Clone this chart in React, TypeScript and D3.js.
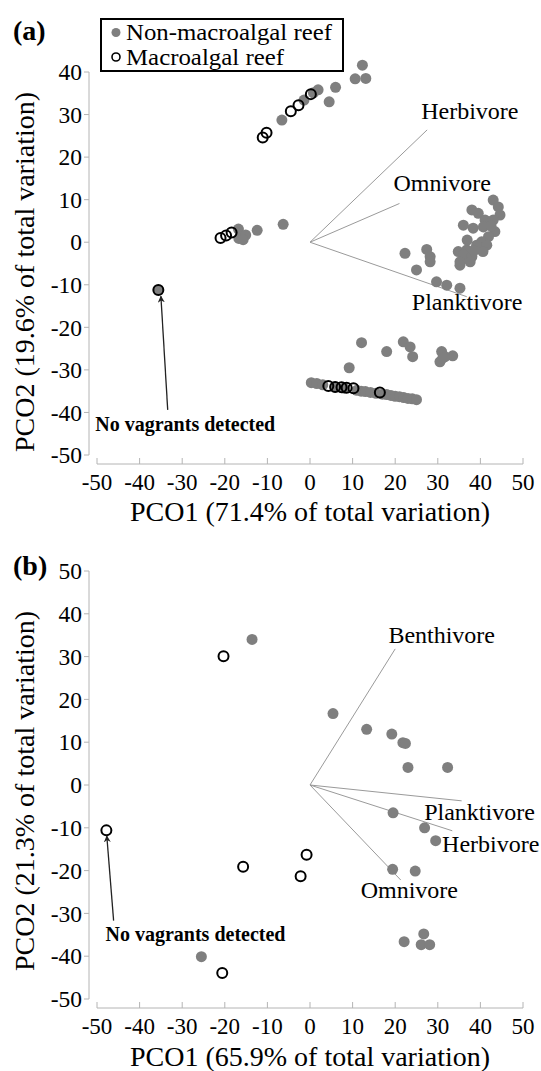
import React from 'react';
import * as d3 from 'd3';

// ---------- data ----------
const xTicks = [-50, -40, -30, -20, -10, 0, 10, 20, 30, 40, 50];
const yTicksA = [-50, -40, -30, -20, -10, 0, 10, 20, 30, 40];
const yTicksB = [-50, -40, -30, -20, -10, 0, 10, 20, 30, 40, 50];

const legendLabels = ['Non-macroalgal reef', 'Macroalgal reef'];

// Panel (a) – non-macroalgal reef (filled grey)
const aNonMacro: [number, number][] = [
  [12.3, 41.6], [10.6, 38.4], [13.1, 38.5], [6.0, 36.4], [4.5, 33.0], [1.9, 35.8], [0.8, 35.1],
  [-1.4, 33.4], [-6.6, 28.7],
  [-16.8, 3.1], [-16.7, 0.9], [-15.1, 1.7], [-15.7, 0.6], [-12.4, 2.8], [-6.3, 4.2],
  [43.0, 9.9], [44.2, 8.3], [44.6, 6.4], [38.0, 7.6], [39.5, 6.8], [41.1, 5.2], [43.0, 5.2],
  [36.0, 4.0], [38.3, 3.3], [40.7, 3.6], [43.4, 2.5], [41.9, 1.3], [40.3, 0.1], [39.1, -0.7],
  [41.5, -0.7], [40.6, -2.2], [34.8, -2.2], [36.8, -1.8], [36.0, -3.0], [38.0, -3.4], [35.2, -4.6],
  [37.6, -4.6], [35.2, -5.4], [36.9, 0.5], [38.5, -2.0], [42.5, 3.8],
  [22.3, -2.6], [27.4, -1.7], [28.2, -3.4], [28.2, -4.6], [25.0, -6.5], [29.7, -9.3], [32.1, -10.1], [35.2, -10.8],
  [12.1, -23.6], [18.0, -25.7], [21.9, -23.4], [23.5, -24.6], [24.1, -26.9], [30.9, -25.7], [30.5, -28.1],
  [33.5, -26.7], [31.7, -26.9], [31.2, -27.2], [9.2, -29.5],
  [0.3, -33.0], [1.6, -33.2], [3.0, -33.5], [6.0, -34.0], [8.0, -34.3], [11.0, -34.8], [12.0, -35.0],
  [13.0, -35.1], [14.2, -35.3], [15.5, -35.5], [17.0, -35.7], [18.0, -35.8], [19.0, -36.0], [20.0, -36.2],
  [21.0, -36.3], [22.0, -36.5], [23.0, -36.7], [24.0, -36.8], [25.0, -37.0],
];
// Panel (a) – macroalgal reef (open)
const aMacro: [number, number][] = [
  [0.2, 34.8], [-2.7, 32.2], [-4.5, 30.8], [-10.2, 25.7], [-11.1, 24.6],
  [-21.0, 1.0], [-19.7, 1.6], [-18.4, 2.3],
  [4.3, -33.8], [5.9, -34.0], [7.4, -34.1], [8.6, -34.2], [10.2, -34.3], [16.4, -35.3],
];
const aVagrant: [number, number] = [-35.6, -11.2];

const aVectorNames = ['Herbivore', 'Omnivore', 'Planktivore'];
const aVectorX = [27.5, 21.0, 36.8];
const aVectorY = [26.4, 9.1, -12.8];

// Panel (b)
const bNonMacro: [number, number][] = [
  [-13.6, 34.0], [5.4, 16.7], [13.3, 13.0], [19.2, 11.9], [21.8, 9.9], [22.4, 9.7], [23.0, 4.1], [32.3, 4.1],
  [19.5, -6.5], [26.9, -10.0], [29.5, -13.0], [19.4, -19.7], [24.7, -20.1],
  [26.7, -34.8], [22.1, -36.6], [26.1, -37.3], [28.1, -37.3], [-25.5, -40.1],
];
const bMacro: [number, number][] = [
  [-20.3, 30.1], [-15.7, -19.1], [-0.8, -16.3], [-2.2, -21.3], [-20.6, -43.9],
];
const bVagrant: [number, number] = [-47.8, -10.6];

const bVectorNames = ['Benthivore', 'Planktivore', 'Herbivore', 'Omnivore'];
const bVectorX = [20.0, 35.6, 33.4, 21.3];
const bVectorY = [31.8, -3.7, -10.7, -22.2];

// ---------- styles ----------
const FONT = '"Liberation Serif", "Times New Roman", serif';
const GREY = '#7f7f7f';
const AXIS = '#b4b4b4';

type PanelProps = {
  tag: string;
  xTitle: string;
  yTitle: string;
  yTicks: number[];
  yRange: [number, number];
  axisY: number;
  tickLabelY: number;
  xTitleY: number;
  yTitleY: number;
  tagY: number;
  nonMacro: [number, number][];
  macro: [number, number][];
  vagrant: [number, number];
  vagrantFilled: boolean;
  vNames: string[];
  vX: number[];
  vY: number[];
  vLabelPos: [number, number][];
  noteText: [number, number];
  arrowFrom: [number, number];
  arrowTo: [number, number];
  dotR: number;
  ringR: number;
  arrowId: string;
};

function Panel(p: PanelProps) {
  const yDom = d3.extent(p.yTicks) as [number, number];
  const x = d3.scaleLinear().domain([-50, 50]).range([97, 523]);
  const y = d3.scaleLinear().domain(yDom).range(p.yRange);
  const axisX = 89;
  return (
    <g>
      {/* panel tag */}
      <text x={13} y={p.tagY} fontFamily={FONT} fontWeight="bold" fontSize={28}>{p.tag}</text>

      {/* y axis */}
      <line x1={axisX} x2={axisX} y1={y(yDom[1])} y2={y(yDom[0])} stroke={AXIS} strokeWidth={1} />
      {p.yTicks.map((t) => (
        <g key={'y' + t}>
          <line x1={axisX - 5} x2={axisX} y1={y(t)} y2={y(t)} stroke={AXIS} />
          <text x={82} y={y(t)} dy="0.35em" textAnchor="end" fontFamily={FONT} fontSize={23.5}>{t}</text>
        </g>
      ))}
      {/* x axis */}
      <line x1={x(-50)} x2={x(50)} y1={p.axisY} y2={p.axisY} stroke={AXIS} />
      {xTicks.map((t) => (
        <g key={'x' + t}>
          <line x1={x(t)} x2={x(t)} y1={p.axisY - 6} y2={p.axisY} stroke={AXIS} />
          <text x={x(t)} y={p.tickLabelY} textAnchor="middle" fontFamily={FONT} fontSize={23}>{t}</text>
        </g>
      ))}
      <text x={310} y={p.xTitleY} textAnchor="middle" fontFamily={FONT} fontSize={28}>{p.xTitle}</text>
      <text transform={`translate(34,${p.yTitleY}) rotate(-90)`} textAnchor="middle" fontFamily={FONT} fontSize={28}>{p.yTitle}</text>

      {/* vectors */}
      {p.vNames.map((n, i) => (
        <g key={n}>
          <line x1={x(0)} y1={y(0)} x2={x(p.vX[i])} y2={y(p.vY[i])} stroke="#9a9a9a" strokeWidth={1} />
          <text x={x(p.vLabelPos[i][0])} y={y(p.vLabelPos[i][1])} fontFamily={FONT} fontSize={24}>{n}</text>
        </g>
      ))}

      {/* points */}
      {p.nonMacro.map((d, i) => (
        <circle key={'n' + i} cx={x(d[0])} cy={y(d[1])} r={p.dotR} fill={GREY} />
      ))}
      {p.macro.map((d, i) => (
        <circle key={'m' + i} cx={x(d[0])} cy={y(d[1])} r={p.ringR} fill="none" stroke="#000" strokeWidth={2} />
      ))}
      <circle cx={x(p.vagrant[0])} cy={y(p.vagrant[1])} r={p.ringR} fill={p.vagrantFilled ? GREY : 'none'} stroke="#000" strokeWidth={2} />

      {/* annotation */}
      <line x1={x(p.arrowFrom[0])} y1={y(p.arrowFrom[1])} x2={x(p.arrowTo[0])} y2={y(p.arrowTo[1])}
        stroke="#222" strokeWidth={1.3} markerEnd={`url(#${p.arrowId})`} />
      <text x={x(p.noteText[0])} y={y(p.noteText[1])} fontFamily={FONT} fontWeight="bold" fontSize={20}>No vagrants detected</text>
    </g>
  );
}

export default function App() {
  return (
    <svg width={541} height={1071} style={{ position: 'absolute', left: 0, top: 0, background: '#fff' }}>
      <defs>
        <marker id="arrA" viewBox="0 0 10 10" refX="9" refY="5" markerWidth="7" markerHeight="7" orient="auto-start-reverse" markerUnits="userSpaceOnUse">
          <path d="M0,0 L10,5 L0,10 L3,5 Z" fill="#222" />
        </marker>
        <marker id="arrB" viewBox="0 0 10 10" refX="9" refY="5" markerWidth="7" markerHeight="7" orient="auto-start-reverse" markerUnits="userSpaceOnUse">
          <path d="M0,0 L10,5 L0,10 L3,5 Z" fill="#222" />
        </marker>
      </defs>
      <rect width={541} height={1071} fill="#fff" />

      <Panel
        tag="(a)"
        xTitle="PCO1 (71.4% of total variation)"
        yTitle="PCO2 (19.6% of total variation)"
        yTicks={yTicksA}
        yRange={[455, 72]}
        axisY={464}
        tickLabelY={490}
        xTitleY={521}
        yTitleY={272}
        tagY={40}
        nonMacro={aNonMacro}
        macro={aMacro}
        vagrant={aVagrant}
        vagrantFilled={true}
        vNames={aVectorNames}
        vX={aVectorX}
        vY={aVectorY}
        vLabelPos={[[26.1, 29.0], [19.6, 12.0], [23.9, -15.9]]}
        noteText={[-50.4, -44.4]}
        arrowFrom={[-33.4, -39.4]}
        arrowTo={[-35.0, -12.7]}
        dotR={5.5}
        ringR={5}
        arrowId="arrA"
      />

      <Panel
        tag="(b)"
        xTitle="PCO1 (65.9% of total variation)"
        yTitle="PCO2 (21.3% of total variation)"
        yTicks={yTicksB}
        yRange={[999, 571]}
        axisY={1008}
        tickLabelY={1034}
        xTitleY={1066}
        yTitleY={791}
        tagY={575}
        nonMacro={bNonMacro}
        macro={bMacro}
        vagrant={bVagrant}
        vagrantFilled={false}
        vNames={bVectorNames}
        vX={bVectorX}
        vY={bVectorY}
        vLabelPos={[[18.4, 33.1], [26.8, -8.2], [31.0, -15.6], [11.9, -26.5]]}
        noteText={[-48.0, -36.4]}
        arrowFrom={[-46.1, -31.7]}
        arrowTo={[-47.7, -11.9]}
        dotR={5.5}
        ringR={5}
        arrowId="arrB"
      />

      {/* legend (panel a) */}
      <rect x={101} y={19} width={242} height={52} fill="#fff" stroke="#000" strokeWidth={2} />
      <circle cx={116} cy={32.5} r={4.5} fill={GREY} />
      <text x={126} y={39.5} fontFamily={FONT} fontSize={22.5} textLength={206} lengthAdjust="spacingAndGlyphs">{legendLabels[0]}</text>
      <circle cx={116} cy={57} r={4} fill="none" stroke="#000" strokeWidth={1.6} />
      <text x={126} y={64.5} fontFamily={FONT} fontSize={22.5} textLength={158} lengthAdjust="spacingAndGlyphs">{legendLabels[1]}</text>
    </svg>
  );
}
